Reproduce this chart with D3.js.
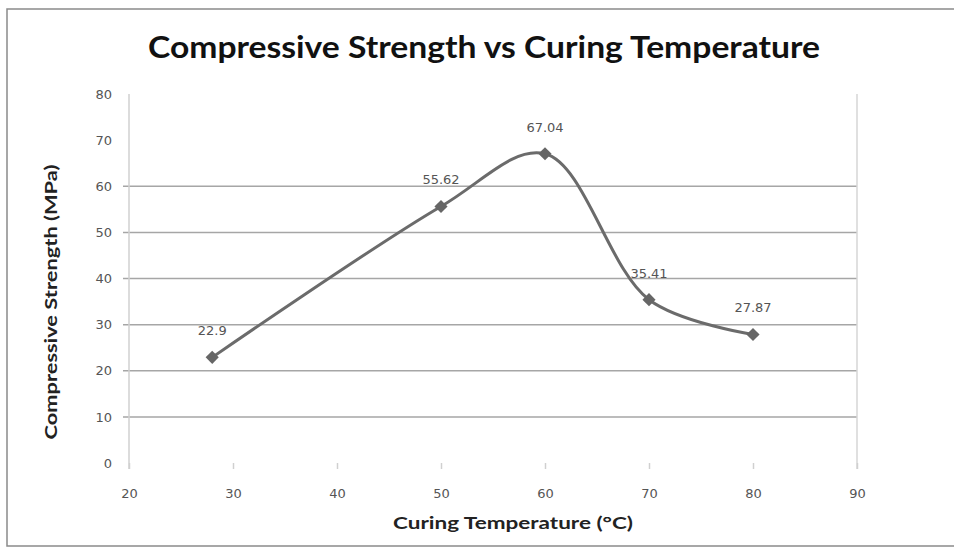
<!DOCTYPE html>
<html><head><meta charset="utf-8">
<script src="https://cdn.jsdelivr.net/npm/d3@7"></script>
<style>body{margin:0;background:#fff}svg{display:block}</style>
</head><body>
<svg id="c" width="954" height="550"></svg>
<script>
const temps = [28, 50, 60, 70, 80];
const strengths = [22.9, 55.62, 67.04, 35.41, 27.87];
const labels = ["22.9", "55.62", "67.04", "35.41", "27.87"];
const xTicks = [20, 30, 40, 50, 60, 70, 80, 90];
const yTicks = [0, 10, 20, 30, 40, 50, 60, 70, 80];
const gridValues = [10, 20, 30, 40, 50, 60];

const svg = d3.select("#c");
const x = d3.scaleLinear().domain([20, 90]).range([129, 857]);
const y = d3.scaleLinear().domain([0, 80]).range([463, 94]);

// frame
svg.append("rect").attr("x", 7).attr("y", 9).attr("width", 960).attr("height", 537)
  .attr("fill", "none").attr("stroke", "#8a8a8a").attr("stroke-width", 1.5);

// gridlines
svg.append("g").selectAll("line").data(gridValues).join("line")
  .attr("x1", x(20) - 6).attr("x2", x(90)).attr("y1", d => y(d)).attr("y2", d => y(d))
  .attr("stroke", "#a6a6a6").attr("stroke-width", 1.5);

// right border of plot
svg.append("line").attr("x1", x(90)).attr("x2", x(90)).attr("y1", y(80)).attr("y2", y(0) + 6)
  .attr("stroke", "#d6d6d6").attr("stroke-width", 1.5);

// y axis
const yAxis = svg.append("g").attr("transform", `translate(${x(20)},0)`)
  .call(d3.axisLeft(y).tickValues(yTicks).tickSize(0).tickPadding(17));
yAxis.select(".domain").attr("stroke", "#d0d0d0").attr("stroke-width", 1.5).attr("d", `M0,${y(80)}V${y(0) + 6}`);
yAxis.selectAll("text").attr("fill", "#555").style("font-family", "DejaVu Sans, sans-serif").style("font-size", "13px");

// x axis
const xAxis = svg.append("g").attr("transform", `translate(0,${y(0)})`)
  .call(d3.axisBottom(x).tickValues(xTicks).tickSize(6).tickPadding(20));
xAxis.select(".domain").attr("stroke", "none");
xAxis.selectAll(".tick line").attr("stroke", "#d0d0d0").attr("stroke-width", 1.5);
xAxis.selectAll("text").attr("fill", "#555").style("font-family", "DejaVu Sans, sans-serif").style("font-size", "13px");

// line
const pts = temps.map((t, i) => [t, strengths[i]]);
svg.append("path").datum(pts)
  .attr("d", d3.line().x(d => x(d[0])).y(d => y(d[1])).curve(d3.curveCatmullRom.alpha(0.5)))
  .attr("fill", "none").attr("stroke", "#6b6b6b").attr("stroke-width", 3);

// markers
svg.append("g").selectAll("path").data(pts).join("path")
  .attr("d", d3.symbol().type(d3.symbolDiamond2).size(110))
  .attr("transform", d => `translate(${x(d[0])},${y(d[1])})`)
  .attr("fill", "#666");

// data labels
svg.append("g").selectAll("text").data(pts).join("text")
  .attr("x", d => x(d[0])).attr("y", d => y(d[1]) - 22)
  .attr("text-anchor", "middle").attr("fill", "#555")
  .style("font-family", "DejaVu Sans, sans-serif").style("font-size", "13px")
  .text((d, i) => labels[i]);

// title
svg.append("text").attr("x", 484).attr("y", 58).attr("text-anchor", "middle")
  .attr("textLength", 672).attr("lengthAdjust", "spacingAndGlyphs")
  .style("font-family", "Lato, sans-serif").style("font-weight", "bold").style("font-size", "31px")
  .attr("fill", "#111").text("Compressive Strength vs Curing Temperature");

// axis titles
svg.append("text").attr("x", 513).attr("y", 529).attr("text-anchor", "middle")
  .attr("textLength", 240).attr("lengthAdjust", "spacingAndGlyphs")
  .style("font-family", "Lato, sans-serif").style("font-weight", "bold").style("font-size", "17px")
  .attr("fill", "#222").text("Curing Temperature (°C)");
svg.append("text").attr("transform", "translate(57,302) rotate(-90)").attr("text-anchor", "middle")
  .attr("textLength", 275).attr("lengthAdjust", "spacingAndGlyphs")
  .style("font-family", "Lato, sans-serif").style("font-weight", "bold").style("font-size", "17px")
  .attr("fill", "#222").text("Compressive Strength (MPa)");
</script>
</body></html>
